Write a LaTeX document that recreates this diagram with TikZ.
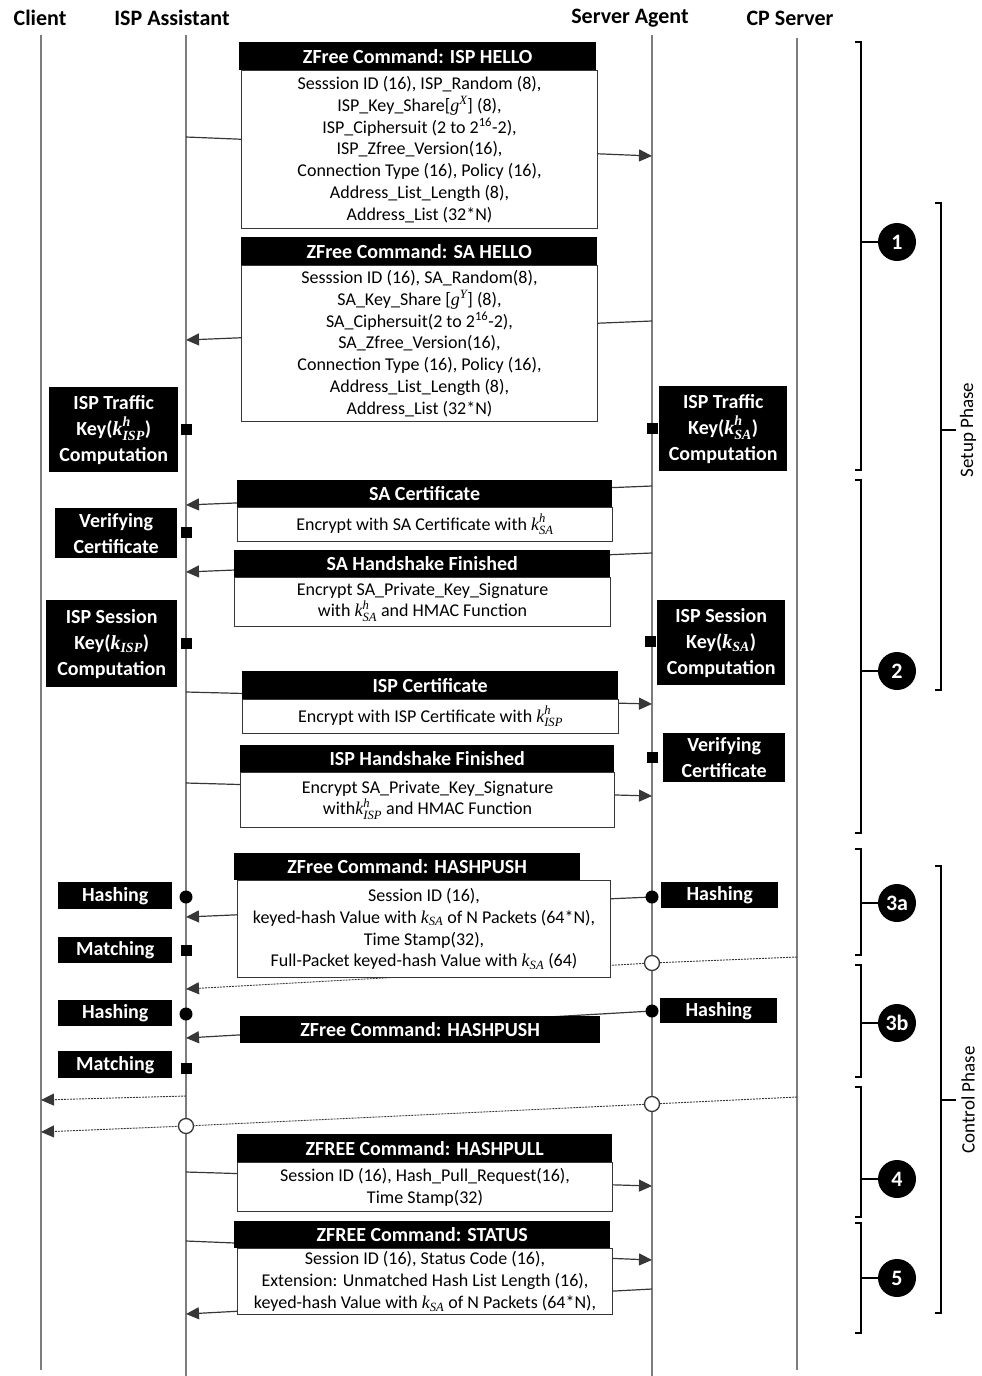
\documentclass[tikz,border=0pt]{standalone}
\usepackage{amsmath}
\usepackage{fontspec}
\setmainfont{Carlito}
\newfontfamily\mathserif{Liberation Serif}
\newcommand{\mv}[1]{\text{\mathserif\itshape #1}}
\usetikzlibrary{arrows.meta, positioning, calc}
\definecolor{LineGray}{RGB}{125,125,125}
\definecolor{ArrowGray}{RGB}{55,55,55}

\tikzset{
  lifeline/.style={draw=LineGray, line width=1.3pt},
  msg/.style={-{Triangle[length=13pt,width=12pt]}, ArrowGray, line width=1.2pt},
  dsh/.style={ArrowGray, line width=0.9pt, dash pattern=on 2pt off 1pt},
  dsharrow/.style={dsh, -{Triangle[length=13pt,width=12pt]}},
  hdr/.style={fill=black, text=white, inner sep=0pt, anchor=north west,
    font=\fontsize{20}{22}\selectfont\bfseries},
  body/.style={draw=ArrowGray, line width=1pt, fill=white, inner sep=0pt,
    anchor=north west, align=center, font=\fontsize{18}{21.8}\selectfont},
  act/.style={fill=black, text=white, inner sep=0pt, align=center,
    anchor=north west, font=\fontsize{20}{26}\selectfont\bfseries},
  sq/.style={fill=black, minimum size=11pt, inner sep=0pt},
  dot/.style={circle, fill=black, minimum size=13pt, inner sep=0pt},
  hollow/.style={circle, draw=ArrowGray, line width=1.3pt, fill=white,
    minimum size=15pt, inner sep=0pt},
  num/.style={circle, fill=black, text=white, minimum size=38pt, inner sep=0pt,
    font=\fontsize{22}{22}\selectfont\bfseries},
  brk/.style={line width=1.8pt},
  title/.style={font=\fontsize{22}{22}\selectfont\bfseries},
  phase/.style={rotate=90, font=\fontsize{19}{19}\selectfont}
}

\begin{document}
\begin{tikzpicture}[x=1pt, y=-1pt]
  \useasboundingbox (0,0) rectangle (982,1376);

  % column titles
  \node[title] (tcl) at (40,18) {Client};
  \node[title] (tisp) at (172,18) {ISP Assistant};
  \node[title] (tsa) at (630,18) {Server Agent};
  \node[title] (tcp) at (790,18) {CP Server};

  % lifelines
  \coordinate (cl0) at (41,35);   \coordinate (cl1) at (41,1370);
  \coordinate (isp0) at (186,35); \coordinate (isp1) at (186,1376);
  \coordinate (sa0) at (652,35);  \coordinate (sa1) at (652,1376);
  \coordinate (cp0) at (797,38);  \coordinate (cp1) at (797,1370);
  \draw[lifeline] (cl0) -- (cl1);
  \draw[lifeline] (isp0) -- (isp1);
  \draw[lifeline] (sa0) -- (sa1);
  \draw[lifeline] (cp0) -- (cp1);

  % message ends on the lifelines
  \coordinate (m1s) at (186,137);  \coordinate (m1e) at (652,156);
  \coordinate (m2s) at (652,321);  \coordinate (m2e) at (186,340);
  \coordinate (m3s) at (652,486);  \coordinate (m3e) at (186,505);
  \coordinate (m4s) at (652,553);  \coordinate (m4e) at (186,572);
  \coordinate (m5s) at (186,692);  \coordinate (m5e) at (652,704);
  \coordinate (m6s) at (186,783);  \coordinate (m6e) at (652,796);
  \coordinate (m7s) at (652,897);  \coordinate (m7e) at (186,917);
  \coordinate (m8s) at (652,1011); \coordinate (m8e) at (186,1038);
  \coordinate (m9s) at (186,1172); \coordinate (m9e) at (652,1186);
  \coordinate (m10s) at (186,1241); \coordinate (m10e) at (652,1260);
  \coordinate (m11s) at (652,1289); \coordinate (m11e) at (186,1314);

  \foreach \i in {1,...,11}
    \draw[msg] (m\i s) -- (m\i e);

  % dashed notifications
  \coordinate (d1s) at (797,957);  \coordinate (o1) at (652,963);  \coordinate (d1e) at (186,989);
  \coordinate (d2s) at (186,1096); \coordinate (d2e) at (41,1100);
  \coordinate (d3s) at (797,1097); \coordinate (o2) at (652,1104);
  \coordinate (o3) at (186,1126);  \coordinate (d3e) at (41,1132);
  \draw[dsharrow] (d1s) -- (o1) -- (d1e);
  \draw[dsharrow] (d2s) -- (d2e);
  \draw[dsharrow] (d3s) -- (o2) -- (o3) -- (d3e);
  \node[hollow] (ho1) at (o1) {};
  \node[hollow] (ho2) at (o2) {};
  \node[hollow] (ho3) at (o3) {};

  % ISP HELLO
  \node[body, minimum width=356pt, minimum height=158pt] (b1) at (241,70)
    {Sesssion ID (16), ISP\_Random (8),\\ISP\_Key\_Share[$\mv{g}^{\mv{X}}$] (8),\\
     ISP\_Ciphersuit (2 to 2\textsuperscript{16}-2),\\ISP\_Zfree\_Version(16),\\
     Connection Type (16), Policy (16),\\Address\_List\_Length (8),\\Address\_List (32*N)};
  \node[hdr, minimum width=357pt, minimum height=28pt] (h1) at (239,42) {ZFree Command: ISP HELLO};

  % SA HELLO
  \node[body, minimum width=356pt, minimum height=156pt] (b2) at (241,265)
    {Sesssion ID (16), SA\_Random(8),\\SA\_Key\_Share [$\mv{g}^{\mv{Y}}$] (8),\\
     SA\_Ciphersuit(2 to 2\textsuperscript{16}-2),\\SA\_Zfree\_Version(16),\\
     Connection Type (16), Policy (16),\\Address\_List\_Length (8),\\Address\_List (32*N)};
  \node[hdr, minimum width=356pt, minimum height=28pt] (h2) at (241,237) {ZFree Command: SA HELLO};

  % SA certificate
  \node[body, minimum width=375pt, minimum height=34pt] (b3) at (237,507)
    {Encrypt with SA Certificate with $\mv{k}^{\mv{h}}_{\mv{SA}}$};
  \node[hdr, minimum width=375pt, minimum height=27pt] (h3) at (237,480) {SA Certificate};

  % SA handshake finished
  \node[body, minimum width=376pt, minimum height=49pt] (b4) at (234,577)
    {Encrypt SA\_Private\_Key\_Signature\\with $\mv{k}^{\mv{h}}_{\mv{SA}}$ and HMAC Function};
  \node[hdr, minimum width=376pt, minimum height=27pt] (h4) at (234,550) {SA Handshake Finished};

  % ISP certificate
  \node[body, minimum width=376pt, minimum height=34pt] (b5) at (242,699)
    {Encrypt with ISP Certificate with $\mv{k}^{\mv{h}}_{\mv{ISP}}$};
  \node[hdr, minimum width=376pt, minimum height=28pt] (h5) at (242,671) {ISP Certificate};

  % ISP handshake finished
  \node[body, minimum width=374pt, minimum height=55pt] (b6) at (240,772)
    {Encrypt SA\_Private\_Key\_Signature\\with$\mv{k}^{\mv{h}}_{\mv{ISP}}$ and HMAC Function};
  \node[hdr, minimum width=374pt, minimum height=27pt] (h6) at (240,745) {ISP Handshake Finished};

  % HASHPUSH (3a)
  \node[body, minimum width=373pt, minimum height=97pt] (b7) at (237,880)
    {Session ID (16),\\keyed-hash Value with $\mv{k}_{\mv{SA}}$ of N Packets (64*N),\\
     Time Stamp(32),\\Full-Packet keyed-hash Value with $\mv{k}_{\mv{SA}}$ (64)};
  \node[hdr, minimum width=346pt, minimum height=27pt] (h7) at (234,853) {ZFree Command: HASHPUSH};

  % HASHPUSH (3b)
  \node[hdr, minimum width=360pt, minimum height=27pt] (h8) at (240,1016) {ZFree Command: HASHPUSH};

  % HASHPULL
  \node[body, minimum width=375pt, minimum height=49pt] (b9) at (237,1162)
    {Session ID (16), Hash\_Pull\_Request(16),\\Time Stamp(32)};
  \node[hdr, minimum width=375pt, minimum height=28pt] (h9) at (237,1134) {ZFREE Command: HASHPULL};

  % STATUS
  \node[body, minimum width=375pt, minimum height=66pt] (b10) at (237,1248)
    {Session ID (16), Status Code (16),\\Extension: Unmatched Hash List Length (16),\\
     keyed-hash Value with $\mv{k}_{\mv{SA}}$ of N Packets (64*N),};
  \node[hdr, minimum width=376pt, minimum height=27pt] (h10) at (234,1221) {ZFREE Command: STATUS};

  % actions beside the lifelines
  \node[act, minimum width=129pt, minimum height=85pt] (itk) at (49,387)
    {ISP Traffic\\Key($\mv{k}^{\mv{h}}_{\mv{ISP}}$)\\Computation};
  \node[sq] (itkm) at (186,429) {};
  \node[act, minimum width=128pt, minimum height=85pt] (stk) at (659,386)
    {ISP Traffic\\Key($\mv{k}^{\mv{h}}_{\mv{SA}}$)\\Computation};
  \node[sq] (stkm) at (652,428) {};
  \node[act, minimum width=122pt, minimum height=50pt] (ivc) at (55,508)
    {Verifying\\Certificate};
  \node[sq] (ivcm) at (186,532) {};
  \node[act, minimum width=131pt, minimum height=87pt] (isk) at (46,600)
    {ISP Session\\Key($\mv{k}_{\mv{ISP}}$)\\Computation};
  \node[sq] (iskm) at (186,643) {};
  \node[act, minimum width=128pt, minimum height=85pt] (ssk) at (657,600)
    {ISP Session\\Key($\mv{k}_{\mv{SA}}$)\\Computation};
  \node[sq] (sskm) at (650,641) {};
  \node[act, minimum width=122pt, minimum height=49pt] (svc) at (663,733)
    {Verifying\\Certificate};
  \node[sq] (svcm) at (652,757) {};

  \node[act, minimum width=114pt, minimum height=27pt] (ih1) at (58,882) {Hashing};
  \node[dot] (ih1m) at (186,897) {};
  \node[act, minimum width=117pt, minimum height=26pt] (sh1) at (661,882) {Hashing};
  \node[dot] (sh1m) at (652,897) {};
  \node[act, minimum width=114pt, minimum height=26pt] (im1) at (58,937) {Matching};
  \node[sq] (im1m) at (186,950) {};
  \node[act, minimum width=117pt, minimum height=25pt] (sh2) at (660,998) {Hashing};
  \node[dot] (sh2m) at (652,1011) {};
  \node[act, minimum width=114pt, minimum height=26pt] (ih2) at (58,1000) {Hashing};
  \node[dot] (ih2m) at (186,1014) {};
  \node[act, minimum width=114pt, minimum height=27pt] (im2) at (58,1051) {Matching};
  \node[sq] (im2m) at (186,1068) {};

  % step brackets
  \foreach \t/\b/\m/\l in {42/470/242/1, 480/833/671/2, 849/955/903/3a,
                           965/1077/1023/3b, 1087/1217/1179/4, 1223/1333/1278/5} {
    \draw[brk] (855,\t) -- (861,\t) -- (861,\b) -- (855,\b);
    \node[num] (n\l) at (897,\m) {\l};
    \draw[brk] (861,\m) -- (n\l);
  }

  % phase brackets
  \draw[brk] (935,203) -- (941,203) -- (941,690) -- (935,690);
  \draw[brk] (941,430) -- (956,430);
  \node[phase] (setup) at (968,430) {Setup Phase};
  \draw[brk] (935,866) -- (941,866) -- (941,1313) -- (935,1313);
  \draw[brk] (941,1100) -- (956,1100);
  \node[phase] (control) at (968,1100) {Control Phase};
\end{tikzpicture}
\end{document}
